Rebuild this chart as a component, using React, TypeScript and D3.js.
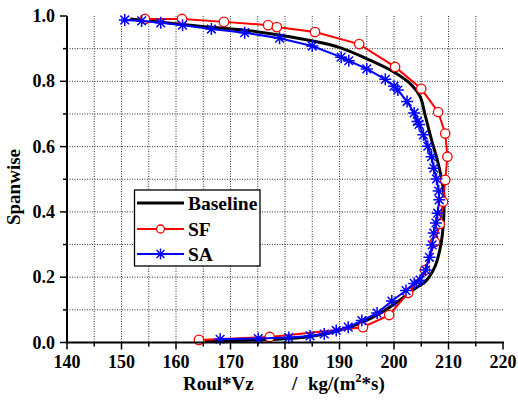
import React from "react";
import * as d3 from "d3";

const baseline: [number, number][] = [
  [151.6, 0.991], [164.4, 0.969], [174.8, 0.952], [185.8, 0.921], [190.1, 0.903],
  [195.0, 0.869], [199.9, 0.829], [203.2, 0.789], [204.8, 0.753], [205.7, 0.697],
  [206.9, 0.620], [208.1, 0.549], [209.0, 0.477], [209.2, 0.436], [208.9, 0.334],
  [208.4, 0.283], [207.5, 0.232], [206.0, 0.191], [203.5, 0.161], [201.1, 0.130],
  [197.4, 0.089], [193.8, 0.059], [189.5, 0.035], [184.6, 0.018], [178.5, 0.010],
  [165.3, 0.006],
];

const sf: [number, number][] = [
  [154.3, 0.991], [161.1, 0.991], [168.8, 0.982], [176.9, 0.972], [178.5, 0.966],
  [185.5, 0.951], [193.6, 0.914], [200.2, 0.844], [205.0, 0.777], [208.1, 0.706],
  [209.4, 0.640], [209.8, 0.569], [209.4, 0.498], [209.0, 0.431], [208.4, 0.363],
  [207.5, 0.308], [205.7, 0.222], [202.6, 0.152], [199.1, 0.084], [194.3, 0.047],
  [177.2, 0.017], [164.2, 0.008],
];

const sa: [number, number][] = [
  [150.6, 0.988], [153.7, 0.985], [157.2, 0.979], [161.2, 0.972], [166.5, 0.960],
  [172.6, 0.949], [179.0, 0.932], [185.0, 0.908], [190.3, 0.874], [191.7, 0.863],
  [195.0, 0.838], [198.4, 0.806], [200.0, 0.785], [200.7, 0.773], [202.4, 0.738],
  [203.7, 0.703], [204.3, 0.677], [204.6, 0.668], [205.4, 0.636], [206.2, 0.601],
  [206.9, 0.569], [207.3, 0.534], [207.8, 0.501], [208.2, 0.464], [208.3, 0.437],
  [208.0, 0.396], [207.7, 0.366], [207.3, 0.335], [207.0, 0.299], [206.5, 0.261],
  [205.8, 0.222], [204.8, 0.191], [203.7, 0.181], [202.2, 0.159], [199.6, 0.127],
  [196.9, 0.090], [194.1, 0.067], [191.6, 0.047], [189.4, 0.037], [187.2, 0.026],
  [184.6, 0.020], [180.7, 0.015], [175.1, 0.012], [168.1, 0.010],
];

const xTicks = [140, 150, 160, 170, 180, 190, 200, 210, 220];
const xMinor = [145, 155, 165, 175, 185, 195, 205, 215];
const yTicks = [0, 0.2, 0.4, 0.6, 0.8, 1.0];
const yMinor = [0.1, 0.3, 0.5, 0.7, 0.9];
const xGrid = [145, 150, 155, 160, 165, 170, 175, 180, 185, 190, 195, 200, 205, 210, 215];
const yGrid = [0.1, 0.2, 0.3, 0.4, 0.5, 0.6, 0.7, 0.8, 0.9];

const seriesNames = ["Baseline", "SF", "SA"];

const W = 518, H = 401;
const x = d3.scaleLinear().domain([140, 220]).range([67, 503]);
const y = d3.scaleLinear().domain([0, 1]).range([342.5, 16]);

const FONT = "'Liberation Serif', 'Times New Roman', serif";

const starPath = (r: number) => {
  const d = r * 0.72;
  return `M0,${-r}V${r}M${-r},0H${r}M${-d},${-d}L${d},${d}M${-d},${d}L${d},${-d}`;
};

export default function App() {
  const linear = d3.line<[number, number]>().x(d => x(d[0])).y(d => y(d[1]));
  const smooth = d3.line<[number, number]>().x(d => x(d[0])).y(d => y(d[1])).curve(d3.curveCatmullRom);

  return (
    <div style={{ position: "absolute", left: 0, top: 0 }}>
      <svg width={W} height={H} style={{ display: "block", background: "#fff" }} fontFamily={FONT}>
        {/* grid */}
        <g stroke="#333" strokeWidth={1} strokeDasharray="1,1.5">
          {xGrid.map(v => (
            <line key={"gx" + v} x1={x(v)} x2={x(v)} y1={y(1)} y2={y(0)} />
          ))}
          {yGrid.map(v => (
            <line key={"gy" + v} x1={x(140)} x2={x(220)} y1={y(v)} y2={y(v)} />
          ))}
        </g>

        {/* series */}
        <path d={smooth(baseline) || ""} fill="none" stroke="#000" strokeWidth={3} />
        <path d={linear(sf) || ""} fill="none" stroke="#ff0000" strokeWidth={2} />
        {sf.map((d, i) => (
          <circle key={"sf" + i} cx={x(d[0])} cy={y(d[1])} r={4.7} fill="#fff" stroke="#ff0000" strokeWidth={1.3} />
        ))}
        <path d={linear(sa) || ""} fill="none" stroke="#0000ff" strokeWidth={2} />
        {sa.map((d, i) => (
          <path key={"sa" + i} transform={`translate(${x(d[0])},${y(d[1])})`} d={starPath(6)} stroke="#0000ff" strokeWidth={1.5} fill="none" />
        ))}

        {/* axes */}
        <g stroke="#000">
          <line x1={x(140)} x2={x(220) + 1} y1={y(0)} y2={y(0)} strokeWidth={2} />
          <line x1={x(140)} x2={x(140)} y1={y(0) + 1} y2={y(1)} strokeWidth={2} />
          {xTicks.map(v => (
            <line key={"xt" + v} x1={x(v)} x2={x(v)} y1={y(0)} y2={y(0) + 7} strokeWidth={1.5} />
          ))}
          {xMinor.map(v => (
            <line key={"xm" + v} x1={x(v)} x2={x(v)} y1={y(0)} y2={y(0) + 4} strokeWidth={1.5} />
          ))}
          {yTicks.map(v => (
            <line key={"yt" + v} x1={x(140) - 7} x2={x(140)} y1={y(v)} y2={y(v)} strokeWidth={1.5} />
          ))}
          {yMinor.map(v => (
            <line key={"ym" + v} x1={x(140) - 4} x2={x(140)} y1={y(v)} y2={y(v)} strokeWidth={1.5} />
          ))}
        </g>
        <g fontSize={18} fontWeight="bold" fill="#000">
          {xTicks.map(v => (
            <text key={"xl" + v} x={x(v)} y={368} textAnchor="middle">{v}</text>
          ))}
          {yTicks.map(v => (
            <text key={"yl" + v} x={55} y={y(v) + 6} textAnchor="end">{v.toFixed(1)}</text>
          ))}
        </g>

        {/* axis titles */}
        <text transform="translate(20,187) rotate(-90)" textAnchor="middle" fontSize={19} fontWeight="bold">Spanwise</text>
        <text y={390} fontSize={19} fontWeight="bold">
          <tspan x={183}>Roul*Vz</tspan>
          <tspan x={292}>/</tspan>
          <tspan x={308}>kg/(m</tspan>
          <tspan dy={-8} fontSize={12}>2</tspan>
          <tspan dy={8}>*s)</tspan>
        </text>

        {/* legend */}
        <g>
          <rect x={134.5} y={190} width={125.5} height={76} fill="#fff" stroke="#000" strokeWidth={1.3} />
          <line x1={137} x2={184} y1={203} y2={203} stroke="#000" strokeWidth={3} />
          <line x1={137} x2={184} y1={229} y2={229} stroke="#ff0000" strokeWidth={2} />
          <circle cx={160.5} cy={229} r={4} fill="#fff" stroke="#ff0000" strokeWidth={1.3} />
          <line x1={137} x2={184} y1={254} y2={254} stroke="#0000ff" strokeWidth={2} />
          <path transform="translate(160.5,254)" d={starPath(5.5)} stroke="#0000ff" strokeWidth={1.4} fill="#fff" />
          <g fontSize={19.5} fontWeight="bold">
            <text x={188} y={210}>{seriesNames[0]}</text>
            <text x={188} y={236}>{seriesNames[1]}</text>
            <text x={188} y={261}>{seriesNames[2]}</text>
          </g>
        </g>
      </svg>
    </div>
  );
}
